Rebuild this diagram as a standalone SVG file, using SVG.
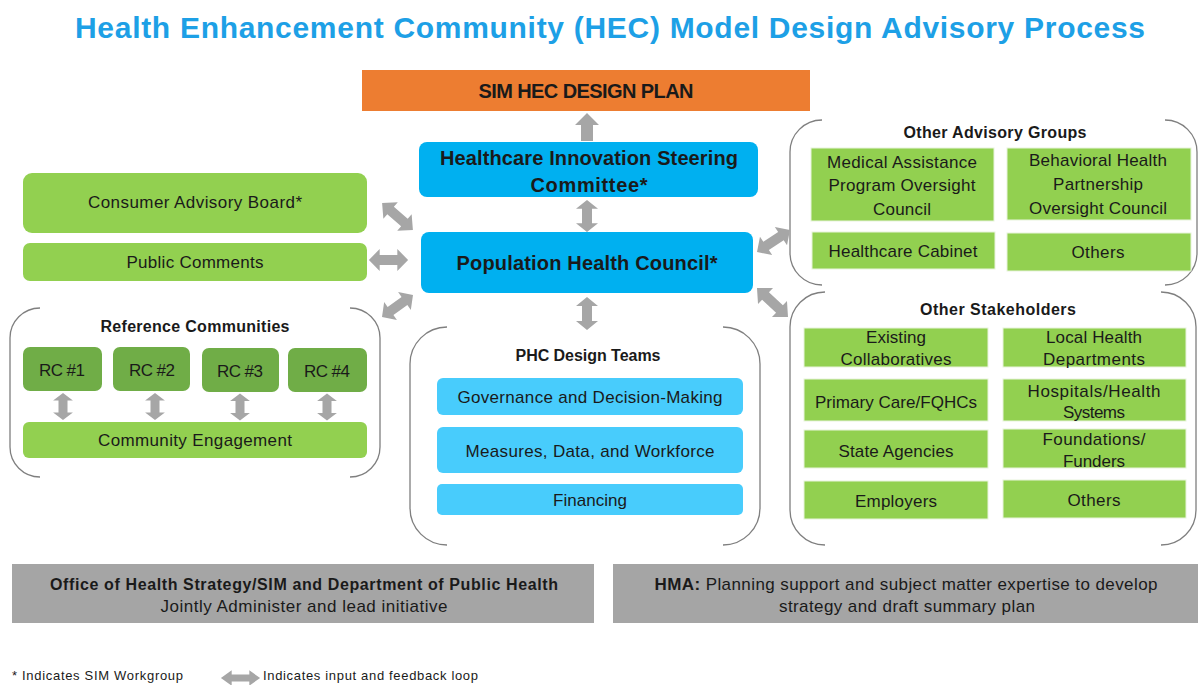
<svg xmlns="http://www.w3.org/2000/svg" xmlns:xlink="http://www.w3.org/1999/xlink" width="1198" height="685" viewBox="0 0 1198 685">
<style>
text{font-family:"Liberation Sans",Arial,sans-serif;fill:#1a1a1a;text-anchor:middle}
.t{font-size:30px;font-weight:bold;fill:#1DA0E6}
.b20{font-size:20px;font-weight:bold}
.b16{font-size:16px;font-weight:bold}
.r16{font-size:17px}
.rc{font-size:17px}
.r13{font-size:13px;text-anchor:start}
.green{fill:#92D050}
.dgreen{fill:#70AD47}
.blue{fill:#00B0F0}
.lblue{fill:#48CCFC}
.sq{fill:#92D050;stroke:#E8F4DC;stroke-width:1}
.gray{fill:#A5A5A5}
.br{fill:none;stroke:#7F7F7F;stroke-width:1.3}
.arr{fill:#A6A6A6}
</style>
<defs>
<path id="dbl" d="M-20,0 L-9,-11 L-9,-5 L9,-5 L9,-11 L20,0 L9,11 L9,5 L-9,5 L-9,11 Z"/>
</defs>
<rect width="1198" height="685" fill="#ffffff"/>

<text class="t" x="610" y="38" textLength="1070">Health Enhancement Community (HEC) Model Design Advisory Process</text>

<g id="design-plan">
<rect x="362" y="70" width="448" height="41" fill="#ED7D31"/>
<text class="b20" x="586" y="98" textLength="215">SIM HEC DESIGN PLAN</text>
</g>

<g id="steering">
<rect class="blue" x="419" y="142" width="339" height="55" rx="8"/>
<text class="b20" x="589" y="165" textLength="298">Healthcare Innovation Steering</text>
<text class="b20" x="589" y="192" textLength="117">Committee*</text>
</g>

<g id="phc">
<rect class="blue" x="421" y="232" width="332" height="61" rx="8"/>
<text class="b20" x="587" y="270" textLength="261">Population Health Council*</text>
</g>

<g id="consumer">
<rect class="green" x="23" y="173" width="344" height="60" rx="9"/>
<text class="r16" x="195" y="208" textLength="214">Consumer Advisory Board*</text>
</g>
<g id="public">
<rect class="green" x="23" y="243" width="344" height="38" rx="7"/>
<text class="r16" x="195" y="268" textLength="137">Public Comments</text>
</g>

<g id="reference-communities">
<path class="br" d="M40,308 A30,30 0 0 0 10,338 L10,447 A30,30 0 0 0 40,477"/>
<path class="br" d="M350,308 A30,30 0 0 1 380,338 L380,447 A30,30 0 0 1 350,477"/>
<text class="b16" x="195" y="332" textLength="189">Reference Communities</text>
</g>
<g id="rc1"><rect class="dgreen" x="23" y="347" width="79" height="44" rx="7"/><text class="rc" x="62" y="376" textLength="46">RC #1</text></g>
<g id="rc2"><rect class="dgreen" x="113" y="347" width="77" height="44" rx="7"/><text class="rc" x="152" y="376" textLength="46">RC #2</text></g>
<g id="rc3"><rect class="dgreen" x="202" y="348" width="77" height="44" rx="7"/><text class="rc" x="240" y="377" textLength="46">RC #3</text></g>
<g id="rc4"><rect class="dgreen" x="288" y="348" width="79" height="44" rx="7"/><text class="rc" x="327" y="377" textLength="46">RC #4</text></g>
<g id="community-engagement">
<rect class="green" x="23" y="422" width="344" height="36" rx="6"/>
<text class="r16" x="195" y="446" textLength="194">Community Engagement</text>
</g>

<g id="phc-design-teams">
<path class="br" d="M447,327 A37,37 0 0 0 410,364 L410,508 A37,37 0 0 0 447,545"/>
<path class="br" d="M723,327 A37,37 0 0 1 760,364 L760,508 A37,37 0 0 1 723,545"/>
<text class="b16" x="588" y="361" textLength="145">PHC Design Teams</text>
</g>
<g id="governance"><rect class="lblue" x="437" y="378" width="306" height="37" rx="6"/><text class="r16" x="590" y="403" textLength="265">Governance and Decision-Making</text></g>
<g id="measures"><rect class="lblue" x="437" y="427" width="306" height="46" rx="6"/><text class="r16" x="590" y="457" textLength="249">Measures, Data, and Workforce</text></g>
<g id="financing"><rect class="lblue" x="437" y="484" width="306" height="31" rx="5"/><text class="r16" x="590" y="506" textLength="74">Financing</text></g>

<g id="other-advisory-groups">
<path class="br" d="M822,120 A32,32 0 0 0 790,152 L790,253 A32,32 0 0 0 822,285"/>
<path class="br" d="M1165,120 A32,32 0 0 1 1197,152 L1197,253 A32,32 0 0 1 1165,285"/>
<text class="b16" x="995" y="138" textLength="183">Other Advisory Groups</text>
</g>
<g id="mapoc"><rect class="sq" x="811" y="148" width="183" height="73"/>
<text class="r16" x="902" y="168" textLength="150">Medical Assistance</text>
<text class="r16" x="902" y="191" textLength="147">Program Oversight</text>
<text class="r16" x="902" y="215" textLength="58">Council</text></g>
<g id="bhpoc"><rect class="sq" x="1007" y="148" width="184" height="72"/>
<text class="r16" x="1098" y="166" textLength="138">Behavioral Health</text>
<text class="r16" x="1098" y="190" textLength="90">Partnership</text>
<text class="r16" x="1098" y="214" textLength="138">Oversight Council</text></g>
<g id="healthcare-cabinet"><rect class="sq" x="812" y="232" width="183" height="37"/>
<text class="r16" x="903" y="257" textLength="149">Healthcare Cabinet</text></g>
<g id="others-advisory"><rect class="sq" x="1007" y="233" width="184" height="38"/>
<text class="r16" x="1098" y="258" textLength="53">Others</text></g>

<g id="other-stakeholders">
<path class="br" d="M825,292 A35,35 0 0 0 790,327 L790,510 A35,35 0 0 0 825,545"/>
<path class="br" d="M1161,292 A35,35 0 0 1 1196,327 L1196,510 A35,35 0 0 1 1161,545"/>
<text class="b16" x="998" y="315" textLength="156">Other Stakeholders</text>
</g>
<g id="existing"><rect class="sq" x="804" y="328" width="184" height="39"/>
<text class="r16" x="896" y="343" textLength="60">Existing</text>
<text class="r16" x="896" y="365" textLength="111">Collaboratives</text></g>
<g id="local-health"><rect class="sq" x="1003" y="328" width="183" height="39"/>
<text class="r16" x="1094" y="343" textLength="96">Local Health</text>
<text class="r16" x="1094" y="365" textLength="102">Departments</text></g>
<g id="primary-care"><rect class="sq" x="804" y="379" width="184" height="42"/>
<text class="r16" x="896" y="408" textLength="162">Primary Care/FQHCs</text></g>
<g id="hospitals"><rect class="sq" x="1003" y="379" width="183" height="42"/>
<text class="r16" x="1094" y="397" textLength="133">Hospitals/Health</text>
<text class="r16" x="1094" y="418" textLength="62">Systems</text></g>
<g id="state-agencies"><rect class="sq" x="804" y="430" width="184" height="38"/>
<text class="r16" x="896" y="457" textLength="115">State Agencies</text></g>
<g id="foundations"><rect class="sq" x="1003" y="429" width="183" height="39"/>
<text class="r16" x="1094" y="445" textLength="103">Foundations/</text>
<text class="r16" x="1094" y="467" textLength="62">Funders</text></g>
<g id="employers"><rect class="sq" x="804" y="481" width="184" height="38"/>
<text class="r16" x="896" y="507" textLength="82">Employers</text></g>
<g id="others-stakeholders"><rect class="sq" x="1003" y="480" width="183" height="38"/>
<text class="r16" x="1094" y="506" textLength="53">Others</text></g>

<g id="ohs">
<rect class="gray" x="12" y="564" width="582" height="59"/>
<text class="b16" x="304" y="590" textLength="508">Office of Health Strategy/SIM and Department of Public Health</text>
<text class="r16" x="304" y="612" textLength="287">Jointly Administer and lead initiative</text>
</g>
<g id="hma">
<rect class="gray" x="613" y="564" width="585" height="59"/>
<text class="r16" x="906" y="590" textLength="503"><tspan font-weight="bold">HMA:</tspan> Planning support and subject matter expertise to develop</text>
<text class="r16" x="907" y="612" textLength="256">strategy and draft summary plan</text>
</g>

<g id="connectors" class="arr">
<path d="M587,113 L599,125 L593,125 L593,141 L581,141 L581,125 L575,125 Z"/>
<use xlink:href="#dbl" href="#dbl" transform="translate(587,216) rotate(90) scale(0.8,1)"/>
<use xlink:href="#dbl" href="#dbl" transform="translate(587,313.5) rotate(90) scale(0.83,1)"/>
<use xlink:href="#dbl" href="#dbl" transform="translate(397.5,216.5) rotate(41) scale(1.02,1)"/>
<use xlink:href="#dbl" href="#dbl" transform="translate(388.5,260) scale(0.98,1)"/>
<use xlink:href="#dbl" href="#dbl" transform="translate(397.5,306) rotate(-35.4) scale(0.95,1)"/>
<use xlink:href="#dbl" href="#dbl" transform="translate(773.5,241) rotate(-33.7) scale(0.99,1)"/>
<use xlink:href="#dbl" href="#dbl" transform="translate(772.5,302.5) rotate(43) scale(1.06,1)"/>
<use xlink:href="#dbl" href="#dbl" transform="translate(63,406.5) rotate(90) scale(0.68,0.9)"/>
<use xlink:href="#dbl" href="#dbl" transform="translate(155,406.5) rotate(90) scale(0.68,0.9)"/>
<use xlink:href="#dbl" href="#dbl" transform="translate(240,407) rotate(90) scale(0.68,0.9)"/>
<use xlink:href="#dbl" href="#dbl" transform="translate(327,407) rotate(90) scale(0.68,0.9)"/>
</g>

<g id="legend">
<text class="r13" x="12" y="680" textLength="171">* Indicates SIM Workgroup</text>
<use class="arr" xlink:href="#dbl" href="#dbl" transform="translate(240.5,678) scale(0.98,0.7)"/>
<text class="r13" x="263" y="680" textLength="215">Indicates input and feedback loop</text>
</g>
</svg>
